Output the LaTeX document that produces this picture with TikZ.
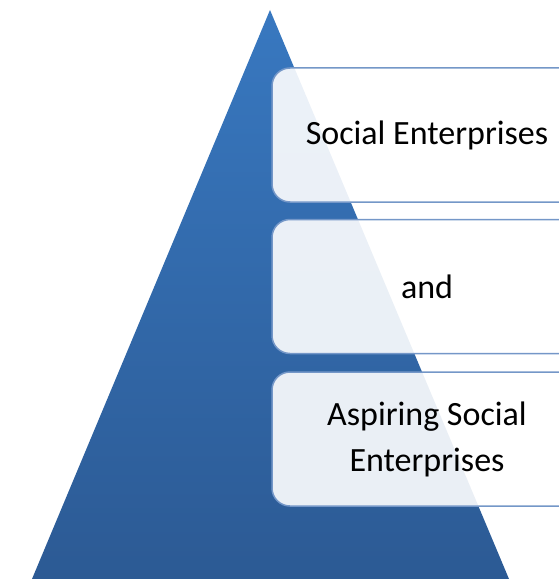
\documentclass[tikz,border=0pt]{standalone}
\usepackage{fontspec}
\setmainfont{Carlito}
\definecolor{pyrtop}{HTML}{3878C0}
\definecolor{pyrbot}{HTML}{2C5A94}
\definecolor{layerline}{HTML}{7497C8}
\tikzset{layer/.style={draw=layerline,line width=1.5bp,fill=white,fill opacity=0.9,text opacity=1,rounded corners=18bp,minimum width=310bp,minimum height=134bp,align=center,font=\fontsize{34bp}{46bp}\selectfont}}
\newcommand{\layer}[3]{\node[layer] (#1) at (427,#2) {#3};}

\begin{document}
\begin{tikzpicture}[x=1bp,y=-1bp]
    \useasboundingbox (0,0) rectangle (559,579);
    \clip (0,0) rectangle (559,579);
    \coordinate (apex) at (270,10); \coordinate (bl) at (32,579); \coordinate (br) at (509,579);
    \shade[top color=pyrtop,bottom color=pyrbot] (apex) -- (br) -- (bl) -- cycle;
    \layer{se}{135}{Social Enterprises}
    \layer{and}{286.5}{and}
    \layer{ase}{439}{Aspiring Social\\Enterprises}
\end{tikzpicture}
\end{document}
